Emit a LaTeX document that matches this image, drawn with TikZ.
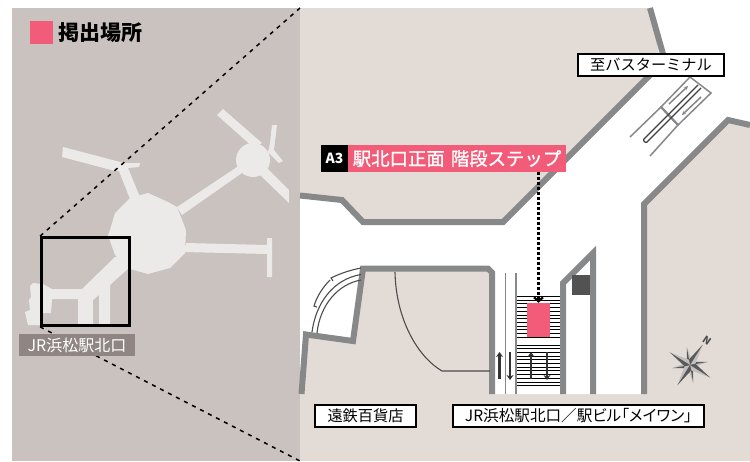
\documentclass[tikz,border=0pt]{standalone}
\usepackage{fontspec}
\setmainfont{Noto Sans CJK JP}
\newfontfamily\medfont[FakeBold=1.2]{Noto Sans CJK JP}
\newfontfamily\paltfont[RawFeature={+palt}]{Noto Sans CJK JP}
\usetikzlibrary{arrows.meta}
\definecolor{panelL}{HTML}{C9C2BF}
\definecolor{panelR}{HTML}{E3DBD6}
\definecolor{road}{HTML}{ECEAE8}
\definecolor{wallc}{HTML}{87888A}
\definecolor{pinkc}{HTML}{F25C78}
\definecolor{tagc}{HTML}{8F8582}
\tikzset{
  x=1pt,y=-1pt,
  wall/.style={draw=wallc,line width=6pt,miter limit=10},
  namebox/.style={draw=black,fill=white,line width=1.3pt,inner sep=0pt,minimum height=22pt,font=\fontsize{15.2}{15.2}\selectfont,text=black},
  stripe/.style={draw=black,line width=0.95pt},
  bigarrow/.style={draw=black!80,line width=2.2pt,-{Stealth[length=5pt,width=7pt]}},
  esc/.style={draw=wallc,line width=1.5pt},
  curvestep/.style={draw=black!70,line width=1.1pt},
  guide/.style={black,line width=1.5pt,dash pattern=on 4pt off 5pt},
}
\begin{document}
\begin{tikzpicture}
\useasboundingbox (0,0) rectangle (750,461);
% panels
\fill[panelL] (12,8) rectangle (300,461);
\fill[panelR] (300,8) rectangle (750,461);
% overview map
\fill[road] (110,230)--(115,213)--(130,198)--(148,193)--(168,202)--(177,207)--(186,230)--(185,253)--(170,268)--(148,274)--(130,269)--(115,255)--(108,235)--cycle;
\fill[road] (186,243)--(267,245)--(267,238)--(272,238)--(272,277)--(267,277)--(267,254)--(184,252)--cycle;
\fill[road] (130,199)--(119,171)--(115,171)--(62,157)--(63,147)--(124,163)--(140,163)--(139,167)--(128,168)--(140,197)--cycle;
\fill[road] (177,207)--(240,165)--(242,173)--(182,215)--cycle;
\fill[road] (253,160) circle[radius=17];
\fill[road] (217,115)--(223,109)--(262,143)--(254,148)--cycle;
\fill[road] (260,175)--(289,203)--(289,190)--(266,167)--cycle;
\fill[road] (272,125)--(277,125)--(274,150)--(283,161)--(279,163)--(268,152)--(270,143)--cycle;
\fill[road] (115,257)--(82,289)--(52,289)--(43,284)--(33,283)--(30,286)--(31,297)--(29,300)--(30,310)--(25,312)--(28,325)--(41,325)--(41,313)--(51,313)--(52,299)--(78,299)--(78,325)--(93,325)--(93,300)--(99,295)--(99,325)--(110,325)--(110,285)--(130,267)--(125,255)--cycle;
% dashed guide lines
\node[draw=black,line width=2.8pt,minimum size=88pt,inner sep=0pt] (zoombox) at (85.5,281.5) {};
\coordinate (tr) at (300,8);
\coordinate (br) at (300,461);
\draw[guide] (zoombox.north west)--(tr);
\draw[guide] (zoombox.south west)--(br);
% legend
\node[fill=pinkc,minimum size=23pt,inner sep=0pt] (legend) at (41.5,32.5) {};
\node[anchor=west,inner sep=0pt,font=\fontsize{21}{21}\selectfont\bfseries] (legendtext) at (58,32.5) {掲出場所};
\node[fill=tagc,text=white,minimum width=116pt,minimum height=22pt,inner sep=0pt,font=\fontsize{16}{16}\selectfont] (jrtag) at (77,345) {JR浜松駅北口};
% white corridors
\fill[white] (300,195)--(342,200)--(363,222)--(503,222)--(661,64)--(650,8)--(750,8)--(750,125)--(728,120)--(644,204)--(644,394)--(492,394)--(492,270)--(490,268)--(363,268)--(353,341)--(306,334)--(301,394)--(300,394)--cycle;
% stairs
\foreach \y in {296.5,300.2,...,338}{\draw[stripe] (517,\y)--(560,\y);}
\foreach \y in {345,348.7,...,386}{\draw[stripe] (517,\y)--(560,\y);}
% walls
\draw[wall] (300,195.5)--(342,200)--(363,222)--(503,222)--(661,64);
\draw[wall] (650,8)--(663,54);
\draw[wall] (750,125)--(728,120)--(644,204)--(644,394);
\draw[wall] (301.5,394)--(306,334.5)--(353,341)--(363,268.5)--(488,268.5)--(492,272.5)--(492,394);
\draw[wall] (563,394)--(563,283)--(593,253)--(593,394);
\fill[black!68] (572,275) rectangle (590,295);
% thin lines beside stairs
\draw[wallc,line width=1.7pt] (505.5,273)--(505.5,394);
\draw[wallc,line width=2.2pt] (515.7,273)--(515.7,394);
% door curve
\draw[curvestep] (395,272) .. controls (396,320) and (418,357) .. (442,371)--(490,371);
% curved steps
\draw[curvestep] (361,280) .. controls (338,284) and (320,305) .. (317,333);
\draw[curvestep] (361,274.5) .. controls (334,279) and (316,302) .. (312,332);
\draw[curvestep] (361,268) .. controls (351,270) and (341,273) .. (331,278)--(333,281);
\draw[curvestep] (330,280) .. controls (323,287) and (317,296) .. (314,306)--(317,307);
% bus escalator
\draw[esc] (690,77)--(711,93)--(678,125)--(661,107)--cycle;
\draw[esc] (661,107)--(630,137);
\draw[esc] (678,125)--(650,156);
\draw[esc,line width=2.2pt] (661,107)--(678,125);
\draw[draw=black!75,line width=1.2pt,rounded corners=1pt] (698,85)--(643,140)--(646,143)--(701,88);
\draw[esc,-{Stealth[length=4pt,width=4pt]}] (669,104)--(688,86);
\draw[esc,-{Stealth[length=4pt,width=4pt]}] (701,97)--(682,115);
% arrows
\draw[bigarrow] (499.5,379)--(499.5,352);
\draw[bigarrow] (510,352)--(510,380);
\draw[bigarrow] (531,379)--(531,352);
\draw[bigarrow] (547,352)--(547,380);
% labels
\node[fill=black,text=white,minimum width=27pt,minimum height=27pt,inner sep=0pt,font=\fontsize{14}{14}\selectfont\bfseries] (a3) at (334.5,158.5) {A3};
\node[fill=pinkc,text=white,minimum width=218pt,minimum height=27pt,inner sep=0pt,font=\fontsize{18.4}{18.4}\medfont] (place) at (457,158.5) {駅北口正面 \hspace{2pt}階段ステップ};
\node[fill=pinkc,minimum width=23pt,minimum height=34pt,inner sep=0pt] (spot) at (538.5,320) {};
\coordinate (dotstart) at (spot.north |- place.south);
\draw[black,line width=2.2pt,dash pattern=on 2.5pt off 2.5pt,-{Straight Barb[length=4pt,width=9pt]}] (dotstart)--(spot.north);
\node[namebox,minimum width=146pt] (bus) at (651,65) {至バスターミナル};
\node[namebox,minimum width=101pt] (dept) at (365.5,416) {遠鉄百貨店};
\node[namebox,minimum width=251pt,font=\fontsize{15.6}{15.6}\paltfont] (jrn) at (578.5,416) {JR浜松駅北口／駅ビル「メイワン」};
% compass
\begin{scope}[shift={(690,365)}]
  \foreach \a in {-10,80,170,260}{
    \fill[black!25] (\a:18)--(\a+45:4)--(0,0)--cycle;
    \fill[black!65] (\a:18)--(\a-45:4)--(0,0)--cycle;
  }
  \foreach \a in {-58,32,122,212}{
    \fill[black!25] (\a:24)--(\a+45:5.5)--(0,0)--cycle;
    \fill[black!65] (\a:24)--(\a-45:5.5)--(0,0)--cycle;
  }
\end{scope}
\node[rotate=-35,inner sep=0pt,text=black!70,font=\fontsize{10}{10}\selectfont\bfseries] (north) at (707,340.5) {N};
\end{tikzpicture}
\end{document}
